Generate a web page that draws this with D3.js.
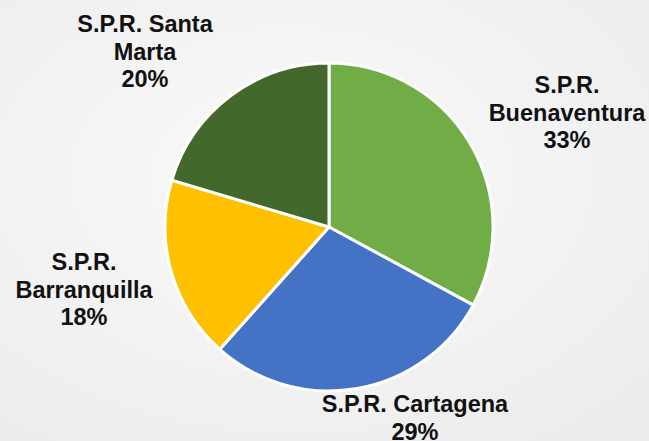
<!DOCTYPE html>
<html>
<head>
<meta charset="utf-8">
<script src="https://cdn.jsdelivr.net/npm/d3@7"></script>
<style>
  html, body { margin: 0; padding: 0; background: #f3f3f3; }
  svg { display: block; }
  text { font-family: "Liberation Sans", Arial, sans-serif; font-weight: bold; fill: #111; }
</style>
</head>
<body>
<div id="chart"></div>
<script>
// data (shares; labels show rounded percentages)
const categories = ["S.P.R. Buenaventura", "S.P.R. Cartagena", "S.P.R. Barranquilla", "S.P.R. Santa Marta"];
const values = [32.9, 28.7, 18.0, 20.4];
const colors = ["#70AD47", "#4472C4", "#FFC000", "#43682B"];
// how each category name wraps in the picture
const nameLines = [
    ["S.P.R.", "Buenaventura"],
    ["S.P.R. Cartagena"],
    ["S.P.R.", "Barranquilla"],
    ["S.P.R. Santa", "Marta"]
];
// label anchor: x center, first baseline
const labelPos = [[567, 93], [415, 412], [84, 270], [145, 32]];

const width = 649, height = 441;
const cx = 329, cy = 227, radius = 164;

const svg = d3.select("#chart").append("svg")
    .attr("width", width)
    .attr("height", height);

// light paper-like background
const defs = svg.append("defs");
const grad = defs.append("radialGradient").attr("id", "bg")
    .attr("cx", "45%").attr("cy", "40%").attr("r", "75%");
grad.append("stop").attr("offset", "0%").attr("stop-color", "#fafafa");
grad.append("stop").attr("offset", "100%").attr("stop-color", "#ececec");
svg.append("rect").attr("width", width).attr("height", height).attr("fill", "url(#bg)");

const pie = d3.pie().sort(null).value(d => d);
const arcs = pie(values);
const arc = d3.arc().innerRadius(0).outerRadius(radius);
const total = d3.sum(values);

const g = svg.append("g").attr("transform", `translate(${cx},${cy})`);

g.selectAll("path")
    .data(arcs)
    .enter()
    .append("path")
    .attr("d", arc)
    .style("fill", (d, i) => colors[i])
    .style("stroke", "#ffffff")
    .style("stroke-width", 3)
    .style("stroke-linejoin", "round");

// labels
const lineH = 27.7;
svg.append("g").selectAll("text")
    .data(arcs)
    .enter()
    .append("text")
    .attr("text-anchor", "middle")
    .style("font-size", "23.5px")
    .each(function(d, i) {
        const t = d3.select(this);
        const lines = nameLines[i].concat([Math.round(d.value / total * 100) + "%"]);
        lines.forEach((s, j) => {
            t.append("tspan")
                .attr("x", labelPos[i][0])
                .attr("y", labelPos[i][1] + j * lineH)
                .text(s);
        });
    });
</script>
</body>
</html>
